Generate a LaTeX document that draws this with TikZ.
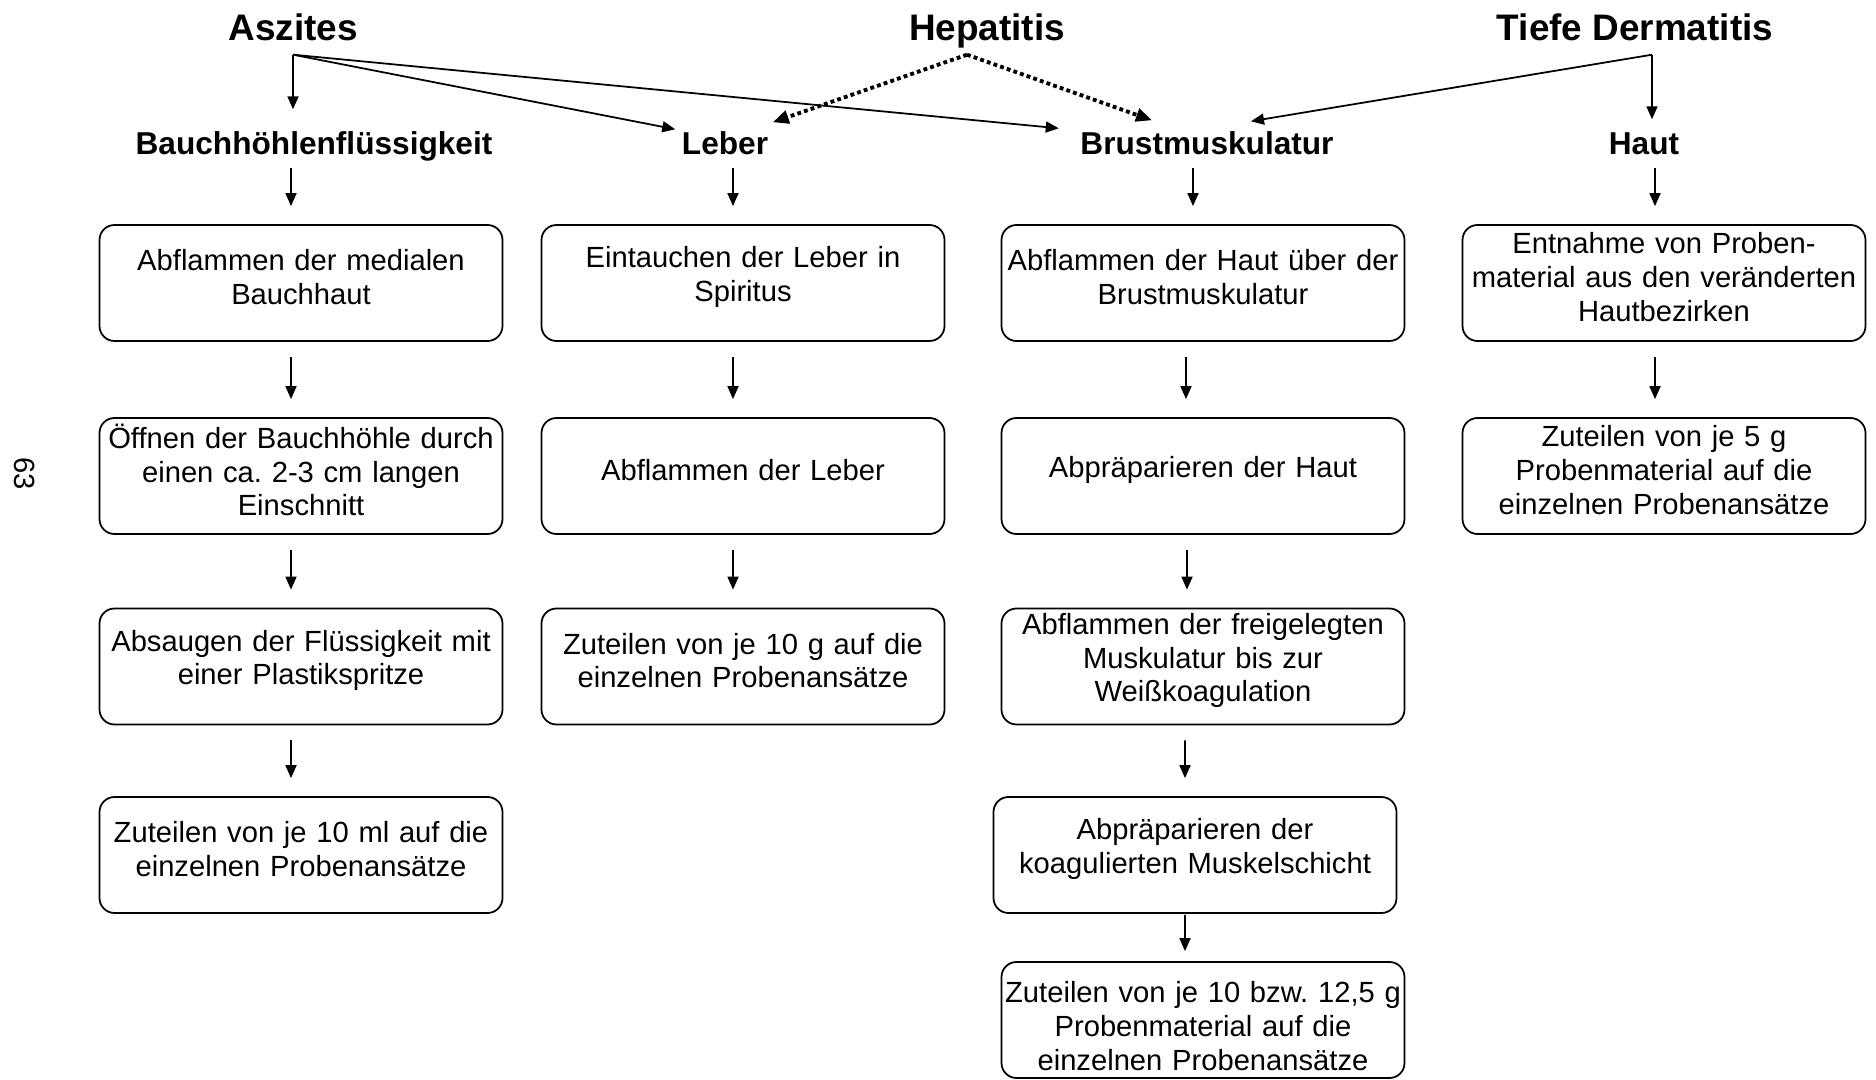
\documentclass[tikz,border=0pt]{standalone}
\usepackage{fontspec}
\setmainfont{Liberation Sans}
\usetikzlibrary{arrows.meta}
\frenchspacing
\newlength{\kastenpad}
\setlength{\kastenpad}{0.12cm}
\newcommand{\kastenende}{\endgraf\nointerlineskip\vbox to \kastenpad{}}

\begin{document}
\begin{tikzpicture}[
	krank/.style={font=\fontsize{10.5}{12}\selectfont\bfseries, inner sep=0pt, inner ysep=0.13cm, text depth=0pt, anchor=base},
	organ/.style={font=\fontsize{9}{11}\selectfont\bfseries, inner sep=0pt, text height=0.23cm, text depth=0pt, anchor=base},
	kasten/.style={draw=black, line width=0.5pt, rounded corners=0.15cm, text width=4.0cm, inner xsep=0.015cm, inner ysep=0pt, minimum height=1.16cm, align=center, font=\fontsize{8.3}{9.6}\selectfont, execute at end node=\kastenende},
	pfeil/.style={line width=0.5pt, -{Triangle[length=0.13cm, width=0.11cm]}},
	punkt/.style={line width=1.1pt, dash pattern=on 1.1pt off 0.9pt, -{Triangle[length=0.16cm, width=0.13cm]}},
	schritt/.style={pfeil, shorten <=0.15cm, shorten >=0.18cm}
	]
	\useasboundingbox (0,0) rectangle (18.76,-10.80);

	\node[font=\fontsize{8.3}{9.6}\selectfont, rotate=-90] (seite) at (0.25,-4.74) {63};

	\node[krank] (k_asz) at (2.93,-0.41) {Aszites};
	\node[krank] (k_hep) at (9.87,-0.41) {Hepatitis};
	\node[krank] (k_derm) at (16.35,-0.41) {Tiefe Dermatitis};

	\node[organ] (o_bauch) at (3.14,-1.55) {Bauchhöhlenflüssigkeit};
	\node[organ] (o_leber) at (7.25,-1.55) {Leber};
	\node[organ] (o_brust) at (12.07,-1.55) {Brustmuskulatur};
	\node[organ] (o_haut) at (16.44,-1.55) {Haut};

	\node[kasten] (bauch_1) at (3.01,-2.83) {Abflammen der medialen\\Bauchhaut};
	\node[kasten] (bauch_2) at (3.01,-4.76) {Öffnen der Bauchhöhle durch\\einen ca. 2-3 cm langen\\Einschnitt};
	\node[kasten] (bauch_3) at (3.01,-6.665) {Absaugen der Flüssigkeit mit\\einer Plastikspritze};
	\node[kasten] (bauch_4) at (3.01,-8.55) {Zuteilen von je 10 ml auf die\\einzelnen Probenansätze};

	\node[kasten] (leber_1) at (7.43,-2.83) {Eintauchen der Leber in\\Spiritus};
	\node[kasten] (leber_2) at (7.43,-4.76) {Abflammen der Leber};
	\node[kasten] (leber_3) at (7.43,-6.665) {Zuteilen von je 10 g auf die\\einzelnen Probenansätze};

	\node[kasten] (brust_1) at (12.03,-2.83) {Abflammen der Haut über der\\Brustmuskulatur};
	\node[kasten] (brust_2) at (12.03,-4.76) {Abpräparieren der Haut};
	\node[kasten] (brust_3) at (12.03,-6.665) {Abflammen der freigelegten\\Muskulatur bis zur\\Weißkoagulation};
	\node[kasten] (brust_4) at (11.95,-8.55) {Abpräparieren der\\koagulierten Muskelschicht};
	\node[kasten, execute at begin node={\setlength{\kastenpad}{-0.12cm}}] (brust_5) at (12.03,-10.20) {Zuteilen von je 10 bzw. 12,5 g\\Probenmaterial auf die\\einzelnen Probenansätze};

	\node[kasten] (haut_1) at (16.64,-2.83) {Entnahme von Proben-\\material aus den veränderten\\Hautbezirken};
	\node[kasten] (haut_2) at (16.64,-4.76) {Zuteilen von je 5 g\\Probenmaterial auf die\\einzelnen Probenansätze};

	% Krankheit -> Organ
	\draw[pfeil] (k_asz.south) -- ([yshift=0.22cm]k_asz.south |- o_bauch.north);
	\draw[pfeil] (k_asz.south) -- ([xshift=-0.06cm, yshift=0.02cm]o_leber.north west);
	\draw[pfeil] (k_asz.south) -- ([xshift=-0.21cm, yshift=0.03cm]o_brust.north west);
	\draw[punkt] ([xshift=-0.20cm]k_hep.south) -- ([xshift=0.04cm, yshift=0.09cm]o_leber.north east);
	\draw[punkt] ([xshift=-0.20cm]k_hep.south) -- ([xshift=-0.55cm, yshift=0.11cm]o_brust.north);
	\draw[pfeil] ([xshift=0.17cm]k_derm.south) -- ([xshift=0.44cm, yshift=0.10cm]o_brust.north);
	\draw[pfeil] ([xshift=0.17cm]k_derm.south) -- ([xshift=0.17cm, yshift=0.12cm]k_derm.south |- o_haut.north);

	% Organ -> erster Schritt
	\draw[pfeil, shorten <=0.12cm, shorten >=0.18cm] ([xshift=-0.10cm]bauch_1.north |- o_bauch.south) -- ([xshift=-0.10cm]bauch_1.north);
	\draw[pfeil, shorten <=0.12cm, shorten >=0.18cm] ([xshift=-0.10cm]leber_1.north |- o_leber.south) -- ([xshift=-0.10cm]leber_1.north);
	\draw[pfeil, shorten <=0.12cm, shorten >=0.18cm] ([xshift=-0.10cm]brust_1.north |- o_brust.south) -- ([xshift=-0.10cm]brust_1.north);
	\draw[pfeil, shorten <=0.12cm, shorten >=0.18cm] ([xshift=-0.09cm]haut_1.north |- o_haut.south) -- ([xshift=-0.09cm]haut_1.north);

	% Schritte
	\draw[schritt] ([xshift=-0.10cm]bauch_1.south) -- ([xshift=-0.10cm]bauch_2.north);
	\draw[schritt] ([xshift=-0.10cm]bauch_2.south) -- ([xshift=-0.10cm]bauch_3.north);
	\draw[schritt] ([xshift=-0.10cm]bauch_3.south) -- ([xshift=-0.10cm]bauch_4.north);

	\draw[schritt] ([xshift=-0.10cm]leber_1.south) -- ([xshift=-0.10cm]leber_2.north);
	\draw[schritt] ([xshift=-0.10cm]leber_2.south) -- ([xshift=-0.10cm]leber_3.north);

	\draw[schritt] ([xshift=-0.17cm]brust_1.south) -- ([xshift=-0.17cm]brust_2.north);
	\draw[schritt] ([xshift=-0.16cm]brust_2.south) -- ([xshift=-0.16cm]brust_3.north);
	\draw[schritt] ([xshift=-0.18cm]brust_3.south) -- ([xshift=-0.10cm]brust_4.north);
	\draw[pfeil, shorten <=0.01cm, shorten >=0.10cm] ([xshift=-0.10cm]brust_4.south) -- ([xshift=-0.18cm]brust_5.north);

	\draw[schritt] ([xshift=-0.09cm]haut_1.south) -- ([xshift=-0.09cm]haut_2.north);
\end{tikzpicture}
\end{document}
